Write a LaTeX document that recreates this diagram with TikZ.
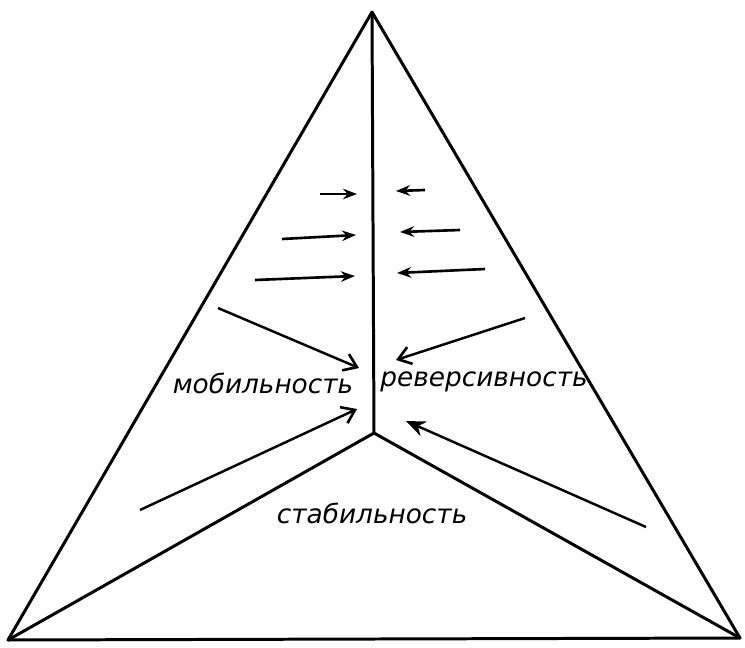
\documentclass[tikz,border=0pt]{standalone}
\usepackage{fontspec}
\setmainfont{DejaVu Sans}
\usetikzlibrary{arrows.meta,positioning}
\tikzset{
  sideline/.style={line width=1.7pt,line join=round},
  pusharrow/.style={line width=1.5pt,-{Stealth[length=8pt,width=6pt]}},
  flowarrow/.style={line width=1.4pt,-{Straight Barb[length=7pt,width=10pt,line width=1.5pt]}},
  flowfill/.style={line width=1.4pt,-{Stealth[length=11pt,width=9pt]}},
  propname/.style={font=\fontsize{15}{17}\selectfont\itshape,inner sep=1pt}
}

\begin{document}
\begin{tikzpicture}[x=0.02cm,y=-0.02cm]
\useasboundingbox (0,0) rectangle (745,647);

% triangle and its three parts
\coordinate (apex) at (372,12);
\coordinate (leftc) at (8,640);
\coordinate (rightc) at (740,638);
\coordinate (hub) at (374,433);
\draw[sideline] (apex) -- (leftc) -- (rightc) -- cycle;
\draw[sideline] (apex) -- (hub);
\draw[sideline] (leftc) -- (hub) -- (rightc);

% names of the properties
\node[propname] (mobil) at (263,383) {мобильность};
\node[propname] (revers) at (484,382) {реверсивность};
\node[propname] (stabil) at (372,513) {стабильность};

% short arrows against the middle line
\coordinate (la1) at (320,194); \coordinate (lb1) at (357,194);
\coordinate (la2) at (282,239); \coordinate (lb2) at (356,235);
\coordinate (la3) at (255,280); \coordinate (lb3) at (355,276);
\coordinate (ra1) at (425,190); \coordinate (rb1) at (396,191);
\coordinate (ra2) at (460,230); \coordinate (rb2) at (400,232);
\coordinate (ra3) at (485,269); \coordinate (rb3) at (397,273);
\draw[pusharrow] (la1) -- (lb1);
\draw[pusharrow] (la2) -- (lb2);
\draw[pusharrow] (la3) -- (lb3);
\draw[pusharrow] (ra1) -- (rb1);
\draw[pusharrow] (ra2) -- (rb2);
\draw[pusharrow] (ra3) -- (rb3);

% long arrows towards the hub
\coordinate (ua) at (218,308); \coordinate (ub) at (359,368);
\coordinate (va) at (525,318); \coordinate (vb) at (396,360);
\coordinate (wa) at (140,510); \coordinate (wb) at (357,409);
\coordinate (xa) at (646,527); \coordinate (xb) at (406,421);
\draw[flowarrow] (ua) -- (ub);
\draw[flowarrow] (va) -- (vb);
\draw[flowarrow] (wa) -- (wb);
\draw[flowfill] (xa) -- (xb);

\end{tikzpicture}
\end{document}
